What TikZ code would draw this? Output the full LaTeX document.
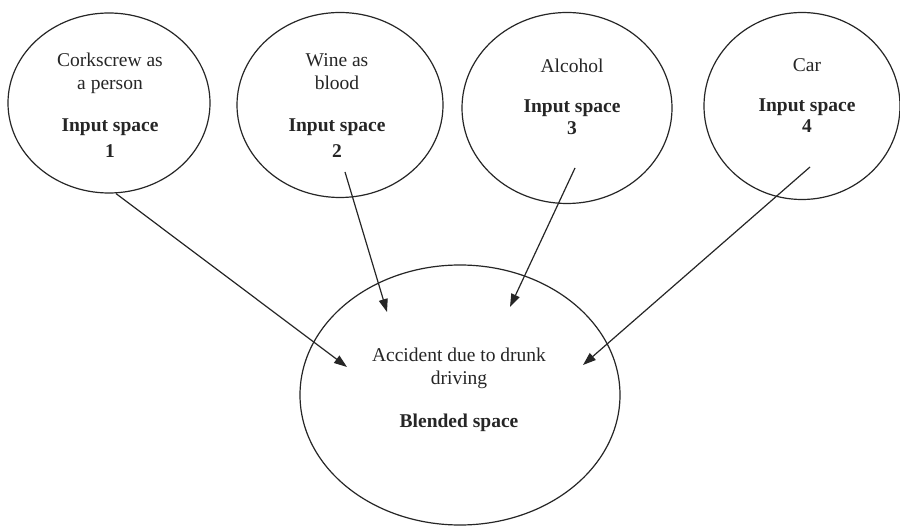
\documentclass[tikz,border=0pt]{standalone}
\usepackage{fontspec}
\setmainfont{Liberation Serif}
\usetikzlibrary{shapes.geometric,arrows.meta}
\begin{document}
\begin{tikzpicture}[x=1pt,y=-1pt,
  space/.style={draw=black!85,line width=1.2pt,ellipse,inner sep=0pt},
  lbl/.style={font=\fontsize{19.5}{22}\selectfont,text=black!85,inner sep=0pt,anchor=base},
  blbl/.style={lbl,font=\fontsize{19.5}{22}\selectfont\bfseries},
  link/.style={draw=black!85,line width=1.2pt,-{Triangle[length=13pt,width=9pt]}}]
\useasboundingbox[fill=white] (0,0) rectangle (900,526);

% input spaces
\node[space,minimum width=202pt,minimum height=180pt] (in1) at (109,103) {};
\node[space,minimum width=206pt,minimum height=185pt] (in2) at (340,105) {};
\node[space,minimum width=210pt,minimum height=191pt] (in3) at (567,108) {};
\node[space,minimum width=196pt,minimum height=187pt] (in4) at (802,106) {};
% blended space
\node[space,minimum width=320pt,minimum height=260pt] (blend) at (460,395) {};

% labels
\node[lbl] (t1a) at (110,67) {Corkscrew as};
\node[lbl] (t1b) at (110,90) {a person};
\node[blbl] (t1c) at (110,132) {Input space};
\node[blbl] (t1d) at (110,158) {1};

\node[lbl] (t2a) at (337,67) {Wine as};
\node[lbl] (t2b) at (337,90) {blood};
\node[blbl] (t2c) at (337,132) {Input space};
\node[blbl] (t2d) at (337,158) {2};

\node[lbl] (t3a) at (572,73) {Alcohol};
\node[blbl] (t3c) at (572,113) {Input space};
\node[blbl] (t3d) at (572,135) {3};

\node[lbl] (t4a) at (807,72) {Car};
\node[blbl] (t4c) at (807,112) {Input space};
\node[blbl] (t4d) at (807,133) {4};

\node[lbl] (tba) at (459,362) {Accident due to drunk};
\node[lbl] (tbb) at (459,385) {driving};
\node[blbl] (tbc) at (459,428) {Blended space};

% connector ends
\coordinate (s2) at (345,172);
\coordinate (s3) at (575,168);
\coordinate (s4) at (810,167);
\coordinate (e1) at (347,367);
\coordinate (e2) at (387,312);
\coordinate (e3) at (510,307);
\coordinate (e4) at (583,365);

\draw[link] (in1.south) ++(7,0) coordinate (s1) -- (e1);
\draw[link] (s2) -- (e2);
\draw[link] (s3) -- (e3);
\draw[link] (s4) -- (e4);
\end{tikzpicture}
\end{document}
